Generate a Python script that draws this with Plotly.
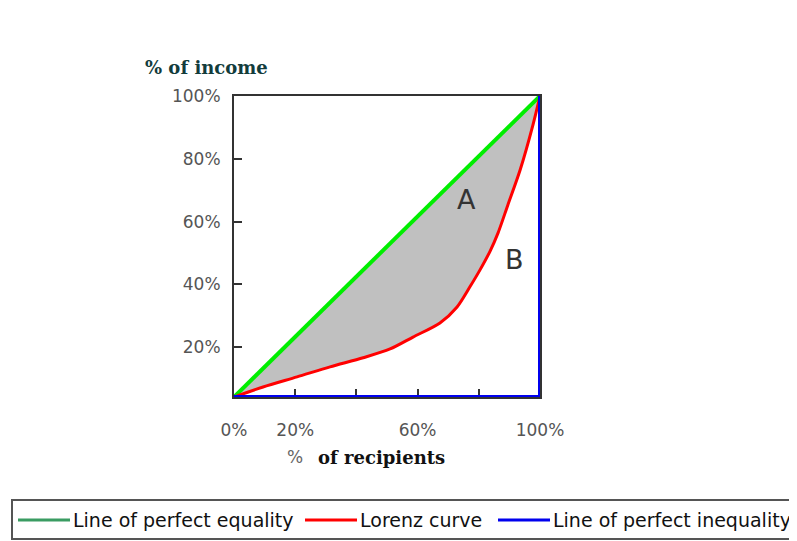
import plotly.graph_objects as go

# ---- data ----
recipients_pct = [0, 9.5, 20.6, 31.4, 42.2, 51.0, 58.5, 67.3, 72.9, 77.1, 80.4,
                  83.7, 86.3, 89.5, 93.5, 97.7, 100]
income_pct = [4.1, 7.3, 10.5, 13.7, 16.6, 19.4, 23.2, 27.7, 32.8, 39.2, 44.6,
              50.6, 56.4, 65.3, 76.4, 90.8, 100]
equality_x = [0, 100]
equality_y = [4.1, 100]
inequality_x = [0, 100, 100]
inequality_y = [4.1, 4.1, 100]

x_tick_vals = [0, 20, 40, 60, 80, 100]
x_tick_text = ["0%", "20%", "", "60%", "", "100%"]
y_tick_vals = [20, 40, 60, 80, 100]
y_tick_text = ["20%", "40%", "60%", "80%", "100%"]

legend_names = ["Line of perfect equality", "Lorenz curve", "Line of perfect inequality"]
legend_colors = ["#3a9c62", "#ff0000", "#0000ee"]

region_labels = ["A", "B"]
region_x = [76.1, 91.8]
region_y = [66.9, 47.8]

# ---- layout geometry (screen pixels; page body has an 8px margin) ----
OFF = 8
W, H = 797 - OFF, 541 - OFF
L, R, T, B = 234, 540, 96, 397
legend_box = (12, 500, 810, 539)          # left, top, right, bottom (px)
legend_line_x = [18, 305, 498]            # start of each legend swatch (px)
legend_swatch = 52
legend_mid_y = 520


def px(xp):
    return (xp - OFF) / W


def py(yp):
    return (H - (yp - OFF)) / H


fig = go.Figure()

fig.add_trace(go.Scatter(x=equality_x, y=equality_y, mode="lines",
                         name=legend_names[0],
                         line=dict(color="#00ee00", width=4),
                         showlegend=False, hoverinfo="skip"))
fig.add_trace(go.Scatter(x=recipients_pct, y=income_pct, mode="lines",
                         name=legend_names[1],
                         line=dict(color="#ff0000", width=3, shape="spline", smoothing=0.8),
                         fill="tonexty", fillcolor="#c0c0c0",
                         showlegend=False, hoverinfo="skip"))
fig.add_trace(go.Scatter(x=inequality_x, y=inequality_y, mode="lines",
                         name=legend_names[2],
                         line=dict(color="#0000ee", width=4),
                         showlegend=False, hoverinfo="skip"))

for lab, xv, yv in zip(region_labels, region_x, region_y):
    fig.add_annotation(x=xv, y=yv, text=lab, showarrow=False,
                       xanchor="center", yanchor="middle",
                       font=dict(family="DejaVu Sans", size=27, color="#333333"))

# axis titles
fig.add_annotation(xref="paper", yref="paper", x=px(207), y=py(68),
                   xanchor="center", yanchor="middle",
                   text="<b>% of income</b>", showarrow=False,
                   font=dict(family="DejaVu Serif", size=18, color="#123c3c"))
fig.add_annotation(xref="paper", yref="paper", x=px(295), y=py(457),
                   xanchor="center", yanchor="middle",
                   text="%", showarrow=False,
                   font=dict(family="DejaVu Sans", size=17, color="#666666"))
fig.add_annotation(xref="paper", yref="paper", x=px(381), y=py(457),
                   xanchor="center", yanchor="middle",
                   text="<b>of recipients</b>", showarrow=False,
                   font=dict(family="DejaVu Serif", size=18, color="#111111"))

# legend (drawn as a boxed key along the bottom)
bl, bt, br, bb = legend_box
fig.add_shape(type="rect", xref="paper", yref="paper",
              x0=px(bl), x1=px(br), y0=py(bb), y1=py(bt),
              line=dict(color="#555555", width=2), fillcolor="white", layer="below")
for name, col, lx in zip(legend_names, legend_colors, legend_line_x):
    fig.add_shape(type="line", xref="paper", yref="paper",
                  x0=px(lx), x1=px(lx + legend_swatch),
                  y0=py(legend_mid_y), y1=py(legend_mid_y),
                  line=dict(color=col, width=3))
    fig.add_annotation(xref="paper", yref="paper", x=px(lx + legend_swatch + 1),
                       y=py(legend_mid_y), xanchor="left", yanchor="middle",
                       text=name, showarrow=False,
                       font=dict(family="DejaVu Sans", size=19, color="#111111"))

fig.update_layout(
    width=W, height=H,
    margin=dict(l=0, r=0, t=0, b=0, pad=0, autoexpand=False),
    paper_bgcolor="white", plot_bgcolor="white",
    showlegend=False,
    xaxis=dict(domain=[px(L), px(R)], range=[0, 100],
               tickvals=x_tick_vals, ticktext=x_tick_text,
               ticks="inside", ticklen=8, tickwidth=2, tickcolor="#333333",
               showline=True, linecolor="#333333", linewidth=2, mirror=True,
               showgrid=False, zeroline=False, ticklabelstandoff=17,
               automargin=False, layer="below traces",
               tickfont=dict(family="DejaVu Sans", size=17, color="#555555")),
    yaxis=dict(domain=[py(B), py(T)], range=[4.1, 100],
               tickvals=y_tick_vals, ticktext=y_tick_text,
               ticks="inside", ticklen=8, tickwidth=2, tickcolor="#333333",
               showline=True, linecolor="#333333", linewidth=2, mirror=True,
               showgrid=False, zeroline=False, ticklabelstandoff=8,
               automargin=False, layer="below traces",
               tickfont=dict(family="DejaVu Sans", size=17, color="#555555")),
)

fig.write_html("out.html")
